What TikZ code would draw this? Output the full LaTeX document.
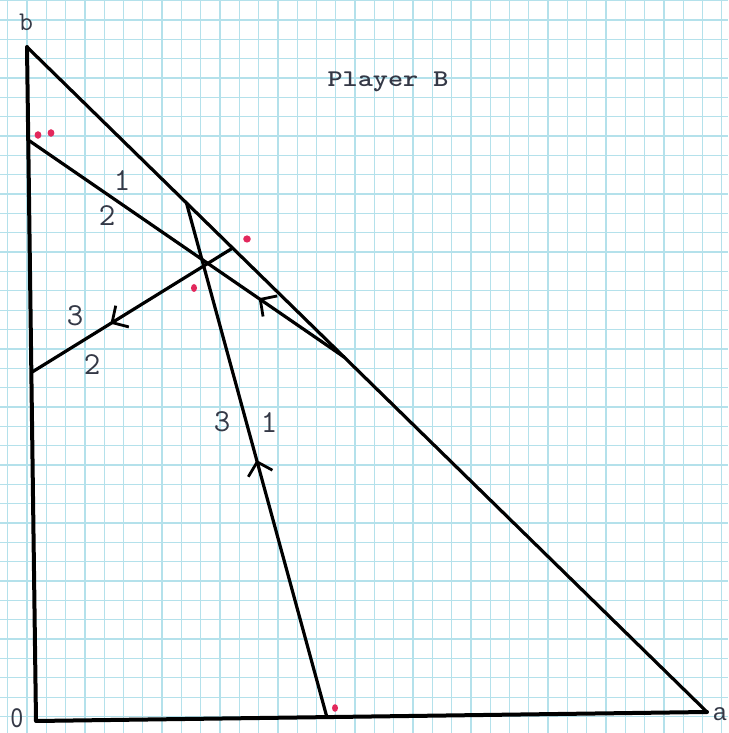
\documentclass[tikz,border=0pt]{standalone}
\usepackage{fontspec}
\newfontfamily\labsans{Liberation Sans}
\usetikzlibrary{decorations.markings,arrows.meta,calc}
\definecolor{gridc}{RGB}{180,225,235}
\definecolor{dotc}{RGB}{226,40,92}
\definecolor{inkc}{RGB}{52,56,70}
\tikzset{
  axisline/.style={line width=4pt,line cap=round,line join=round},
  mainline/.style={line width=3.2pt,line cap=round},
  barb/.style={decoration={markings,mark=at position #1 with {\arrow{Straight Barb[length=12pt,width=25pt,line width=2.8pt]}}},postaction={decorate}},
  digit/.style={text=inkc,font=\ttfamily\fontsize{32}{32}\selectfont,inner sep=0pt},
  reddot/.style={fill=dotc,draw=none},
}
\begin{document}
\begin{tikzpicture}[x=1pt,y=1pt]
\useasboundingbox (0,0) rectangle (728,733);
\fill[white] (0,0) rectangle (728,733);
% graph paper
\foreach \i in {0,...,38} {
  \draw[gridc,line width=1.3pt] ({7.7+19.3*\i},0) -- ({7.7+19.3*\i},733);
}
\foreach \j in {0,...,38} {
  \draw[gridc,line width=1.3pt] (0,{732.4-19.35*\j}) -- (728,{732.4-19.35*\j});
}
% corner points
\coordinate (b) at (27,686);
\coordinate (O) at (36,12);
\coordinate (a) at (707,21);
% points on the sides
\coordinate (P1) at ($(O)!0.862!(b)$);
\coordinate (P2) at ($(O)!0.517!(b)$);
\coordinate (H1) at ($(b)!0.466!(a)$);
\coordinate (H2) at ($(b)!0.2345!(a)$);
\coordinate (H3) at ($(b)!0.3024!(a)$);
\coordinate (Q) at ($(O)!0.4335!(a)$);
% triangle
\draw[axisline] (b) -- (O) -- (a);
\draw[mainline] (b) -- (a);
% interior lines
\draw[mainline,barb=0.27] (H1) -- (P1);
\draw[mainline,barb=0.5] (Q) -- (H2);
\draw[mainline,barb=0.607] (H3) -- (P2);
% labels
\node[text=inkc,font=\ttfamily\bfseries\fontsize{24}{24}\selectfont,inner sep=0pt,xscale=1.2] (pb) at (388,651) {Player B};
\node[digit,font=\ttfamily\fontsize{27}{27}\selectfont] (lb) at (26,711) {b};
\node[text=inkc,inner sep=0pt,font=\labsans\fontsize{27}{27}\selectfont,xscale=0.8] (l0) at (17,15) {0};
\node[text=inkc,inner sep=0pt,font=\labsans\fontsize{24}{24}\selectfont,anchor=west] (la) at (713,19) {a};
\node[digit] (n1a) at (122,552) {1};
\node[digit] (n2a) at (107,517) {2};
\node[digit] (n3b) at (75,417) {3};
\node[digit] (n2b) at (92,368) {2};
\node[digit] (n3c) at (222,311) {3};
\node[digit] (n1c) at (269,310) {1};
% red dots
\fill[reddot] (38,598) ellipse (3.4pt and 3.8pt);
\fill[reddot] (51,600) ellipse (3.4pt and 3.8pt);
\fill[reddot] (247,494) ellipse (3.8pt and 3.6pt);
\fill[reddot] (194,445) ellipse (3pt and 4pt);
\fill[reddot] (335,25) ellipse (3pt and 3.8pt);
\end{tikzpicture}
\end{document}
